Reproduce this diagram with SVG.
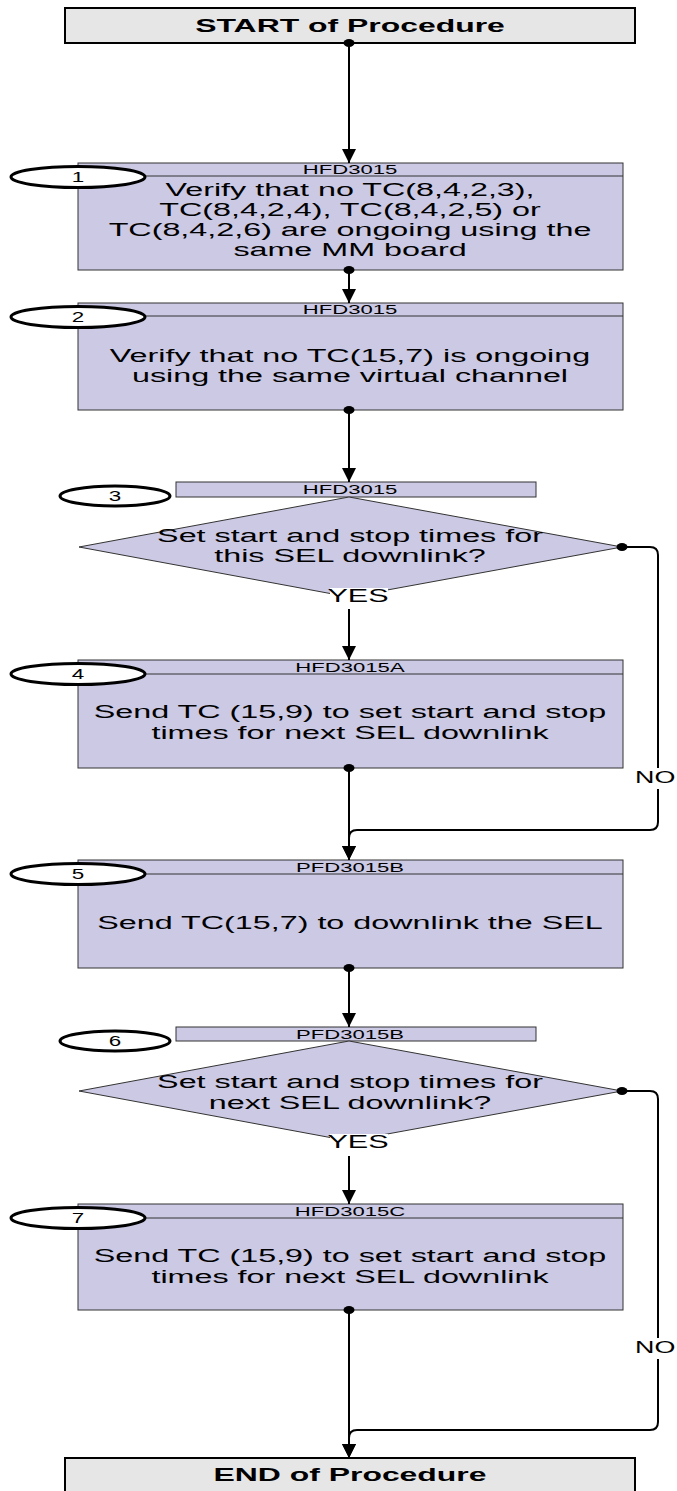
<svg xmlns="http://www.w3.org/2000/svg" width="677" height="1491" viewBox="0 0 677 1491">
<defs>
<marker id="arr" markerUnits="userSpaceOnUse" markerWidth="16" markerHeight="14" refX="14" refY="7" orient="auto">
<path d="M0,0 L14,7 L0,14 Z" fill="#000"/>
</marker>
<style>
.term{fill:#e6e6e6;stroke:#000;stroke-width:2}
.box{fill:#cbc9e4;stroke:#333;stroke-width:1}
.hdr{fill:#cbc9e4;stroke:#333;stroke-width:1}
.oval{fill:#fff;stroke:#000;stroke-width:3}
.con{fill:none;stroke:#000;stroke-width:2}
.dot{fill:#000}
text{font-family:"Liberation Sans",Arial,sans-serif;fill:#000;text-anchor:middle}
.b{font-size:19px}
.h{font-size:13px}
.n{font-size:14px}
.t{font-size:19px;font-weight:bold}
.l{font-size:18px}
</style>
</defs>

<g id="start">
<rect class="term" x="65" y="8" width="570" height="35"/>
<text class="t" transform="translate(350,32) scale(1.68,1)">START of Procedure</text>
</g>

<g id="step1">
<rect class="box" x="78" y="163" width="545" height="107"/>
<line x1="78" y1="176" x2="623" y2="176" stroke="#333" stroke-width="1"/>
<text class="h" transform="translate(350,174) scale(1.7,1)">HFD3015</text>
<text class="b" transform="translate(350,196) scale(1.7,1)">Verify that no TC(8,4,2,3),</text>
<text class="b" transform="translate(350,216) scale(1.7,1)">TC(8,4,2,4), TC(8,4,2,5) or</text>
<text class="b" transform="translate(350,236) scale(1.7,1)">TC(8,4,2,6) are ongoing using the</text>
<text class="b" transform="translate(350,256) scale(1.7,1)">same MM board</text>
<ellipse class="oval" cx="78" cy="177" rx="67" ry="10.5"/>
<text class="n" transform="translate(78,182) scale(1.6,1)">1</text>
</g>

<g id="step2">
<rect class="box" x="78" y="303" width="545" height="107"/>
<line x1="78" y1="316" x2="623" y2="316" stroke="#333" stroke-width="1"/>
<text class="h" transform="translate(350,314) scale(1.7,1)">HFD3015</text>
<text class="b" transform="translate(350,362) scale(1.7,1)">Verify that no TC(15,7) is ongoing</text>
<text class="b" transform="translate(350,382) scale(1.7,1)">using the same virtual channel</text>
<ellipse class="oval" cx="78" cy="317" rx="67" ry="10.5"/>
<text class="n" transform="translate(78,322) scale(1.6,1)">2</text>
</g>

<g id="step3">
<rect class="hdr" x="176" y="482" width="360" height="15"/>
<text class="h" transform="translate(350,494) scale(1.7,1)">HFD3015</text>
<polygon class="box" points="349,497 622,547 349,597 79,547"/>
<text class="b" transform="translate(350,542) scale(1.7,1)">Set start and stop times for</text>
<text class="b" transform="translate(350,562) scale(1.7,1)">this SEL downlink?</text>
<ellipse class="oval" cx="115" cy="496" rx="55" ry="10"/>
<text class="n" transform="translate(115,501) scale(1.6,1)">3</text>
</g>

<g id="step4">
<rect class="box" x="78" y="660" width="545" height="108"/>
<line x1="78" y1="674" x2="623" y2="674" stroke="#333" stroke-width="1"/>
<text class="h" transform="translate(350,672) scale(1.7,1)">HFD3015A</text>
<text class="b" transform="translate(350,718) scale(1.7,1)">Send TC (15,9) to set start and stop</text>
<text class="b" transform="translate(350,739) scale(1.7,1)">times for next SEL downlink</text>
<ellipse class="oval" cx="78" cy="674" rx="67" ry="10.5"/>
<text class="n" transform="translate(78,679) scale(1.6,1)">4</text>
</g>

<g id="step5">
<rect class="box" x="78" y="860" width="545" height="108"/>
<line x1="78" y1="874" x2="623" y2="874" stroke="#333" stroke-width="1"/>
<text class="h" transform="translate(350,872) scale(1.7,1)">PFD3015B</text>
<text class="b" transform="translate(350,929) scale(1.7,1)">Send TC(15,7) to downlink the SEL</text>
<ellipse class="oval" cx="78" cy="874" rx="67" ry="10.5"/>
<text class="n" transform="translate(78,879) scale(1.6,1)">5</text>
</g>

<g id="step6">
<rect class="hdr" x="176" y="1027" width="360" height="14"/>
<text class="h" transform="translate(350,1038.5) scale(1.7,1)">PFD3015B</text>
<polygon class="box" points="349,1041 622,1091 349,1141 79,1091"/>
<text class="b" transform="translate(350,1088) scale(1.7,1)">Set start and stop times for</text>
<text class="b" transform="translate(350,1109) scale(1.7,1)">next SEL downlink?</text>
<ellipse class="oval" cx="115" cy="1041" rx="55" ry="10"/>
<text class="n" transform="translate(115,1046) scale(1.6,1)">6</text>
</g>

<g id="step7">
<rect class="box" x="78" y="1204" width="545" height="106"/>
<line x1="78" y1="1218" x2="623" y2="1218" stroke="#333" stroke-width="1"/>
<text class="h" transform="translate(350,1216) scale(1.7,1)">HFD3015C</text>
<text class="b" transform="translate(350,1262) scale(1.7,1)">Send TC (15,9) to set start and stop</text>
<text class="b" transform="translate(350,1283) scale(1.7,1)">times for next SEL downlink</text>
<ellipse class="oval" cx="78" cy="1218" rx="67" ry="10.5"/>
<text class="n" transform="translate(78,1223) scale(1.6,1)">7</text>
</g>

<g id="end">
<rect class="term" x="65" y="1458" width="570" height="34"/>
<text class="t" transform="translate(350,1481) scale(1.68,1)">END of Procedure</text>
</g>

<g id="connectors">
<path class="con" d="M349,43 V163" marker-end="url(#arr)"/>
<path class="con" d="M349,270 V303" marker-end="url(#arr)"/>
<path class="con" d="M349,410 V482" marker-end="url(#arr)"/>
<path class="con" d="M349,609 V660" marker-end="url(#arr)"/>
<path class="con" d="M349,768 V860" marker-end="url(#arr)"/>
<path class="con" d="M622,547 H650 Q658,547 658,555 V822 Q658,830 650,830 H357 Q349,830 349,838 V860" marker-end="url(#arr)"/>
<path class="con" d="M349,968 V1027" marker-end="url(#arr)"/>
<path class="con" d="M349,1156 V1204" marker-end="url(#arr)"/>
<path class="con" d="M349,1310 V1458" marker-end="url(#arr)"/>
<path class="con" d="M622,1091 H650 Q658,1091 658,1099 V1422 Q658,1430 650,1430 H357 Q349,1430 349,1438 V1458" marker-end="url(#arr)"/>
<ellipse class="dot" cx="349" cy="43" rx="5.5" ry="4"/>
<ellipse class="dot" cx="349" cy="270" rx="5.5" ry="4"/>
<ellipse class="dot" cx="349" cy="410" rx="5.5" ry="4"/>
<ellipse class="dot" cx="622" cy="547" rx="5.5" ry="4"/>
<ellipse class="dot" cx="349" cy="768" rx="5.5" ry="4"/>
<ellipse class="dot" cx="349" cy="968" rx="5.5" ry="4"/>
<ellipse class="dot" cx="622" cy="1091" rx="5.5" ry="4"/>
<ellipse class="dot" cx="349" cy="1310" rx="5.5" ry="4"/>
<rect x="330" y="588" width="58" height="20" fill="#fff"/>
<text class="l" transform="translate(358,602) scale(1.7,1)">YES</text>
<rect x="330" y="1134" width="58" height="20" fill="#fff"/>
<text class="l" transform="translate(358,1148) scale(1.7,1)">YES</text>
<rect x="634" y="768" width="43" height="21" fill="#fff"/>
<text class="l" style="text-anchor:start;font-size:17px" transform="translate(635,783) scale(1.58,1)">NO</text>
<rect x="634" y="1338" width="43" height="21" fill="#fff"/>
<text class="l" style="text-anchor:start;font-size:17px" transform="translate(635,1353) scale(1.58,1)">NO</text>
</g>
</svg>
